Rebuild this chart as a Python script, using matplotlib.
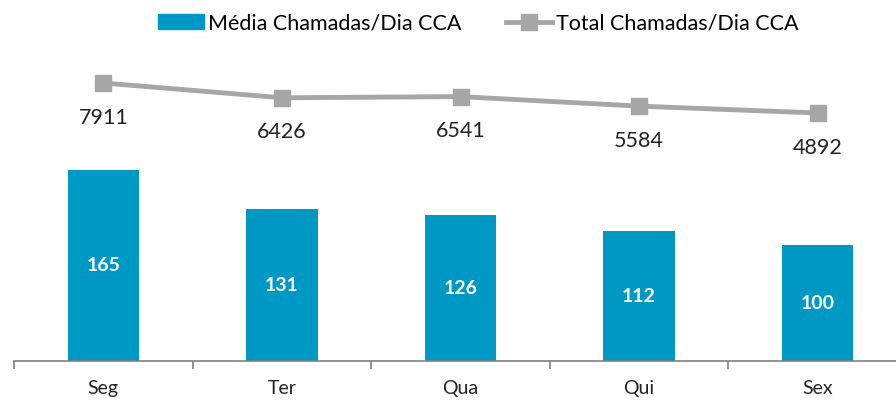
import matplotlib.pyplot as plt
from matplotlib.lines import Line2D
from matplotlib.patches import Patch

# Data
days = ['Seg', 'Ter', 'Qua', 'Qui', 'Sex']
media = [165, 131, 126, 112, 100]
total = [7911, 6426, 6541, 5584, 4892]

BAR_COLOR = '#0099C6'
LINE_COLOR = '#A6A6A6'

plt.rcParams['font.family'] = ['Lato', 'DejaVu Sans']

fig = plt.figure(figsize=(8.96, 4.01), dpi=100)
H = 401
ax = fig.add_axes([14 / 896, (401 - 361) / H, 893 / 896, (361 - 60) / H])

x = list(range(len(days)))
ax.bar(x, media, width=0.4, color=BAR_COLOR, zorder=2)
for xi, v in zip(x, media):
    ax.text(xi, v / 2, str(v), ha='center', va='center', color='white',
            fontsize=14, fontweight='bold')

ax.set_xlim(-0.5, 4.5)
ax.set_ylim(0, 260)
ax.set_yticks([])
for s in ['top', 'right', 'left']:
    ax.spines[s].set_visible(False)
ax.spines['bottom'].set_color('#808080')
ax.spines['bottom'].set_linewidth(1.2)
ax.set_xticks([i - 0.5 for i in range(len(days) + 1)])
ax.set_xticklabels([])
ax.tick_params(axis='x', length=6, color='#808080', width=1.2)
for xi, d in zip(x, days):
    ax.text(xi, -0.09, d, transform=ax.get_xaxis_transform(), ha='center',
            va='center', fontsize=14, color='#222222')

ax2 = ax.twinx()
ax2.plot(x, total, color=LINE_COLOR, linewidth=3.5, marker='s',
         markersize=12, zorder=3)
for xi, v in zip(x, total):
    ax2.annotate(str(v), (xi, v), xytext=(0, -25), textcoords='offset points',
                 ha='center', va='center', fontsize=15.5, color='#222222')
ax2.set_ylim(-20060, 10225)
ax2.set_yticks([])
for s in ['top', 'right', 'left', 'bottom']:
    ax2.spines[s].set_visible(False)

handles = [Patch(color=BAR_COLOR),
           Line2D([], [], color=LINE_COLOR, linewidth=3.5, marker='s', markersize=12)]
fig.legend(handles, ['Média Chamadas/Dia CCA', 'Total Chamadas/Dia CCA'],
           loc='center', bbox_to_anchor=(0.534, 0.942), ncol=2, frameon=False,
           fontsize=15.5, handlelength=2.14, handletextpad=0.2, columnspacing=2.05)

fig.savefig('out.png', dpi=100)
